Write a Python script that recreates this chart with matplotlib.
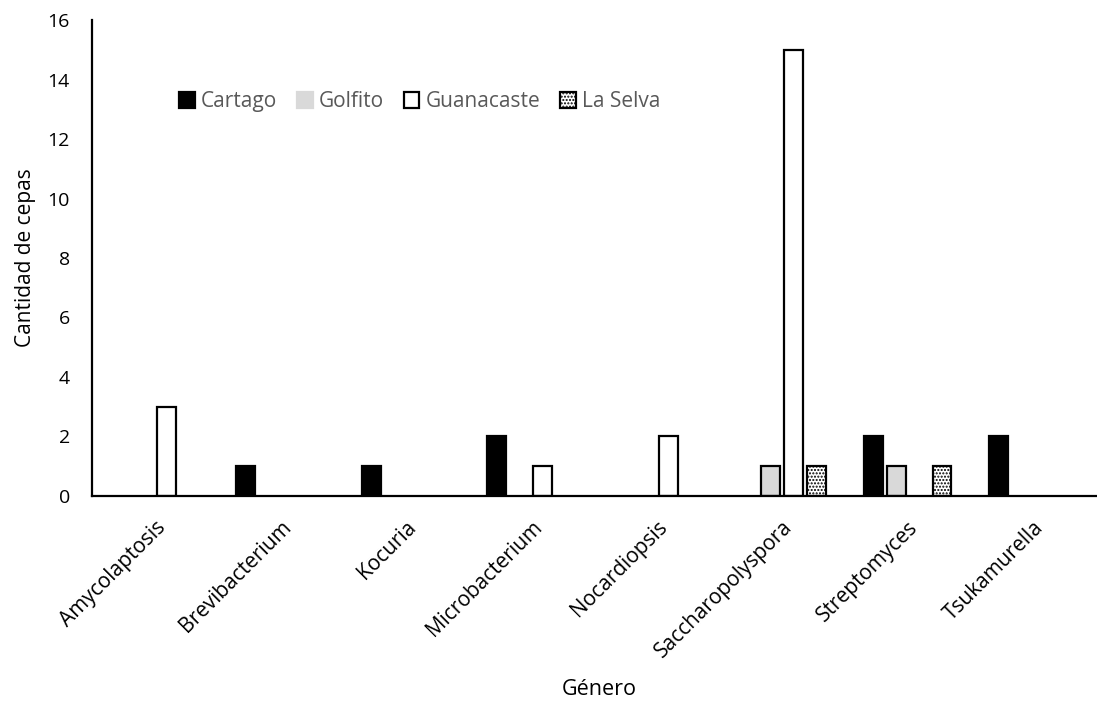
import numpy as np
import matplotlib.pyplot as plt

plt.rcParams['font.family'] = ['Open Sans', 'DejaVu Sans']

# datos
generos = ['Amycolaptosis', 'Brevibacterium', 'Kocuria', 'Microbacterium',
           'Nocardiopsis', 'Saccharopolyspora', 'Streptomyces', 'Tsukamurella']
cartago = [0, 1, 1, 2, 0, 0, 2, 2]
golfito = [0, 0, 0, 0, 0, 1, 1, 0]
guanacaste = [3, 0, 0, 1, 2, 15, 0, 0]
la_selva = [0, 0, 0, 0, 0, 1, 1, 0]
series = ['Cartago', 'Golfito', 'Guanacaste', 'La Selva']

fig = plt.figure(figsize=(10.97, 7.03), dpi=100)
ax = fig.add_axes([0.0839, 0.2945, 0.915, 0.677])

x = np.arange(len(generos))
paso = 0.183
ancho = 0.15
estilos = [
    dict(color='black', edgecolor='black'),
    dict(color='#d9d9d9', edgecolor='black'),
    dict(color='white', edgecolor='black'),
    dict(color='white', edgecolor='black', hatch='.....'),
]
valores = [cartago, golfito, guanacaste, la_selva]
for i in range(4):
    v = np.array(valores[i], dtype=float)
    v[v == 0] = np.nan
    ax.bar(x + (i - 1.5) * paso, v, ancho, linewidth=1.6,
           label=series[i], **estilos[i])

ax.set_xlim(-0.5, len(generos) - 0.5)
ax.set_ylim(0, 16)
ax.set_yticks(range(0, 17, 2))
ax.set_xticks(x)
ax.set_xticklabels(generos, rotation=45, ha='right', rotation_mode='anchor')
ax.tick_params(axis='both', length=0, labelsize=14)
ax.tick_params(axis='x', labelsize=15, pad=15)
ax.tick_params(axis='y', pad=16)
for s in ['top', 'right']:
    ax.spines[s].set_visible(False)
for s in ['left', 'bottom']:
    ax.spines[s].set_linewidth(1.6)

ax.set_ylabel('Cantidad de cepas', fontsize=15, labelpad=8)
fig.text(0.546, 0.004, 'Género', fontsize=15.5, ha='center', va='bottom')

ley = ax.legend(loc='upper left', bbox_to_anchor=(0.068, 0.89), ncol=4,
                frameon=False, fontsize=15, handlelength=0.75, handleheight=0.75,
                handletextpad=0.3, columnspacing=0.95)
for t in ley.get_texts():
    t.set_color('#595959')
ley.legend_handles[1].set_edgecolor('#d9d9d9')

fig.savefig('out.png', dpi=100)
